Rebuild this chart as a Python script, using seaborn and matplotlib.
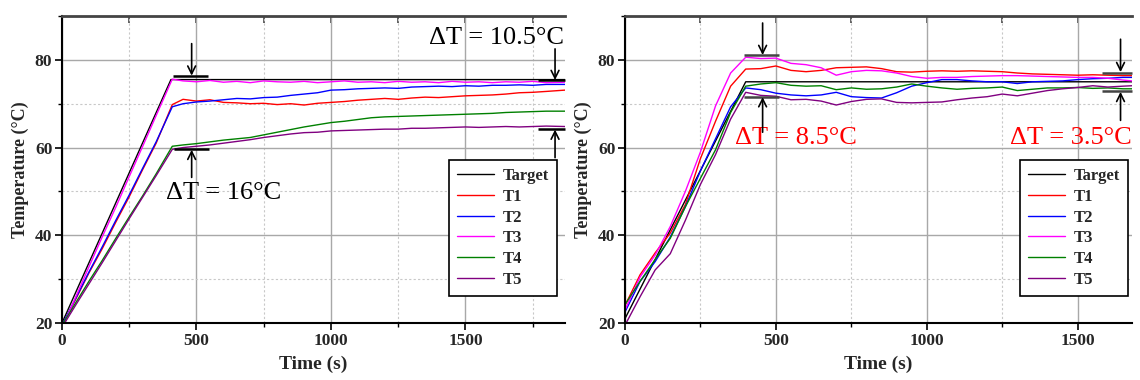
import numpy as np
import pandas as pd
import matplotlib
matplotlib.use("Agg")
import matplotlib.pyplot as plt
from matplotlib.ticker import MultipleLocator, NullFormatter
import seaborn as sns

# ---------------- data ----------------
series_names = ["Target", "T1", "T2", "T3", "T4", "T5"]
series_colors = ["#000000", "#ff0000", "#0000ff", "#ff00ff", "#008000", "#800080"]

# Left panel
left_target_t = [0, 405, 1870]
left_target_y = [20.0, 75.5, 75.5]
left_t = [0, 50, 100, 150, 200, 250, 300, 350, 410, 450, 500, 550, 600, 650, 700, 750,
          800, 850, 900, 950, 1000, 1050, 1100, 1150, 1200, 1250, 1300, 1350, 1400,
          1450, 1500, 1550, 1600, 1650, 1700, 1750, 1800, 1870]
left_T1 = [19.5, 25.3, 31.4, 37.0, 43.0, 48.8, 55.0, 61.0, 69.8, 71.0, 70.6, 70.9, 70.3,
           70.2, 70.0, 70.1, 69.8, 70.0, 69.7, 70.1, 70.3, 70.5, 70.8, 71.0, 71.2, 71.0,
           71.3, 71.5, 71.4, 71.6, 71.8, 71.9, 72.0, 72.2, 72.5, 72.6, 72.8, 73.1]
left_T2 = [19.5, 25.5, 31.6, 37.4, 43.4, 49.2, 55.3, 61.3, 69.3, 70.0, 70.4, 70.6, 70.9,
           71.2, 71.1, 71.4, 71.5, 71.9, 72.2, 72.5, 73.1, 73.2, 73.4, 73.5, 73.6, 73.5,
           73.8, 73.9, 74.0, 73.9, 74.1, 74.0, 74.2, 74.2, 74.3, 74.2, 74.4, 74.4]
left_T3 = [18.8, 25.8, 32.8, 39.7, 46.4, 53.4, 60.3, 67.3, 75.6, 75.2, 75.0, 75.3, 74.9,
           75.1, 74.8, 75.2, 75.0, 74.9, 75.1, 74.8, 75.0, 75.2, 74.9, 75.0, 74.8, 75.1,
           74.9, 75.0, 74.8, 75.1, 74.9, 75.0, 74.8, 75.0, 74.9, 75.1, 74.8, 74.9]
left_T4 = [19.5, 24.5, 29.5, 34.3, 39.3, 44.2, 49.0, 54.0, 60.3, 60.6, 60.9, 61.3, 61.7,
           62.0, 62.3, 62.9, 63.5, 64.1, 64.7, 65.2, 65.7, 66.0, 66.4, 66.8, 67.0, 67.1,
           67.2, 67.3, 67.4, 67.5, 67.6, 67.7, 67.8, 68.0, 68.1, 68.2, 68.3, 68.3]
left_T5 = [19.0, 24.0, 28.9, 33.8, 38.8, 43.8, 48.7, 53.6, 59.6, 60.0, 60.3, 60.6, 61.0,
           61.4, 61.8, 62.3, 62.7, 63.1, 63.4, 63.5, 63.8, 63.9, 64.0, 64.1, 64.2, 64.2,
           64.4, 64.4, 64.5, 64.6, 64.7, 64.6, 64.7, 64.8, 64.7, 64.8, 64.9, 64.8]

# Right panel
right_target_t = [0, 400, 1680]
right_target_y = [21.0, 75.0, 75.0]
right_t = [0, 50, 100, 150, 200, 250, 300, 350, 400, 450, 500, 550, 600, 650, 700, 750,
           800, 850, 900, 950, 1000, 1050, 1100, 1150, 1200, 1250, 1300, 1350, 1400,
           1450, 1500, 1550, 1600, 1650, 1680]
right_T1 = [24.0, 31.0, 36.0, 40.5, 47.0, 57.5, 66.0, 74.0, 77.9, 78.0, 78.6, 77.6, 77.3,
            77.6, 78.2, 78.3, 78.4, 78.0, 77.3, 77.2, 77.4, 77.5, 77.4, 77.5, 77.4, 77.3,
            77.0, 76.8, 76.7, 76.6, 76.5, 76.6, 76.5, 76.4, 76.4]
right_T2 = [22.5, 29.5, 34.0, 39.6, 46.5, 54.7, 62.0, 69.3, 73.6, 73.2, 72.4, 72.0, 71.8,
            72.0, 72.6, 71.6, 71.4, 71.3, 72.5, 74.0, 74.8, 75.5, 75.5, 75.2, 75.0, 75.0,
            74.6, 75.0, 75.1, 75.2, 75.5, 75.7, 75.8, 76.0, 76.0]
right_T3 = [23.0, 30.5, 35.5, 42.0, 50.0, 59.0, 69.5, 77.0, 80.6, 80.3, 80.4, 79.2, 78.9,
            78.2, 76.5, 77.3, 77.6, 77.5, 77.0, 76.2, 75.8, 76.0, 76.0, 76.2, 76.3, 76.4,
            76.4, 76.3, 76.2, 76.1, 76.0, 76.0, 75.8, 75.4, 75.2]
right_T4 = [24.2, 29.5, 34.5, 39.3, 46.5, 53.0, 59.5, 68.0, 74.0, 74.5, 74.8, 74.2, 74.0,
            74.1, 73.2, 73.6, 73.3, 73.4, 73.8, 74.5, 74.0, 73.6, 73.3, 73.5, 73.6, 73.8,
            73.0, 73.3, 73.6, 73.6, 73.7, 73.5, 73.6, 73.4, 73.4]
right_T5 = [19.5, 26.0, 32.1, 35.8, 43.4, 51.6, 58.4, 66.5, 72.6, 71.9, 71.7, 70.9, 71.0,
            70.6, 69.7, 70.5, 71.0, 71.1, 70.3, 70.2, 70.3, 70.4, 70.9, 71.3, 71.6, 72.2,
            71.8, 72.4, 73.0, 73.4, 73.7, 74.1, 73.8, 74.0, 74.1]

left_xmax, right_xmax = 1870, 1680

# ---------------- styling ----------------
sns.set_theme(style="white")
plt.rcParams["font.family"] = ["Liberation Serif", "DejaVu Serif"]


def build_df(target_t, target_y, t, curves):
    frames = [pd.DataFrame({"time": target_t, "temp": target_y, "series": "Target"})]
    for name, vals in zip(series_names[1:], curves):
        frames.append(pd.DataFrame({"time": t, "temp": vals, "series": name}))
    return pd.concat(frames, ignore_index=True)


df_left = build_df(left_target_t, left_target_y, left_t,
                   [left_T1, left_T2, left_T3, left_T4, left_T5])
df_right = build_df(right_target_t, right_target_y, right_t,
                    [right_T1, right_T2, right_T3, right_T4, right_T5])

palette = dict(zip(series_names, series_colors))

fig = plt.figure(figsize=(11.4, 3.8), dpi=100)
ax1 = fig.add_axes([62 / 1140, 1 - 323 / 380, (565 - 62) / 1140, (323 - 16) / 380])
ax2 = fig.add_axes([625 / 1140, 1 - 323 / 380, (1132 - 625) / 1140, (323 - 16) / 380])


def style_axes(ax, xmax, legend_anchor):
    ax.set_xlim(0, xmax)
    ax.set_ylim(20, 90)
    ax.xaxis.set_major_locator(MultipleLocator(500))
    ax.xaxis.set_minor_locator(MultipleLocator(250))
    ax.yaxis.set_major_locator(MultipleLocator(20))
    ax.yaxis.set_minor_locator(MultipleLocator(10))
    ax.grid(which="major", color="#a8a8a8", lw=1.0, ls="-")
    ax.grid(which="minor", color="#c8c8c8", lw=0.8, ls=(0, (2, 2)))
    ax.set_axisbelow(True)
    for s in ["left", "bottom"]:
        ax.spines[s].set_color("black")
        ax.spines[s].set_linewidth(1.5)
    ax.spines["right"].set_visible(False)
    ax.spines["top"].set_color("#444444")
    ax.spines["top"].set_linewidth(2.0)
    ax.tick_params(axis="both", which="major", direction="out", length=5, width=1.2,
                   color="black", labelsize=12.5, pad=2, bottom=True, left=True)
    ax.tick_params(axis="both", which="minor", direction="out", length=3, width=1.0,
                   color="black", bottom=True, left=True)
    for lab in ax.get_xticklabels() + ax.get_yticklabels():
        lab.set_fontweight("bold")
    # inward ticks on top edge
    tw = ax.twiny()
    tw.set_xlim(ax.get_xlim())
    tw.xaxis.set_major_locator(MultipleLocator(500))
    tw.xaxis.set_minor_locator(MultipleLocator(250))
    tw.xaxis.set_major_formatter(NullFormatter())
    tw.tick_params(axis="x", which="both", direction="in", top=True, bottom=False,
                   labeltop=False, length=5, width=1.2, color="#444444")
    tw.grid(False)
    for s in tw.spines.values():
        s.set_visible(False)
    tw.set_zorder(ax.get_zorder() - 1)
    ax.patch.set_visible(False)

    ax.set_xlabel("Time (s)", fontsize=14, fontweight="bold", labelpad=5)
    ax.set_ylabel("Temperature (\u00b0C)", fontsize=13, fontweight="bold", labelpad=4)
    leg = ax.legend(loc="lower right", bbox_to_anchor=legend_anchor, borderaxespad=0,
                    frameon=True, fancybox=False, framealpha=1, edgecolor="black",
                    prop={"weight": "bold", "size": 12}, handlelength=2.2,
                    labelspacing=0.28, borderpad=0.5, handletextpad=0.5)
    leg.get_frame().set_linewidth(1.2)
    for line in leg.get_lines():
        line.set_linewidth(1.0)


for ax, df, xmax, anchor in [(ax1, df_left, left_xmax, (0.984, 0.088)),
                             (ax2, df_right, right_xmax, (0.992, 0.088))]:
    sns.lineplot(data=df, x="time", y="temp", hue="series", hue_order=series_names,
                 palette=palette, estimator=None, sort=False, lw=1.0, ax=ax)
    style_axes(ax, xmax, anchor)

arrow_kw = dict(arrowstyle="->", color="black", lw=1.2, mutation_scale=14,
                shrinkA=0, shrinkB=0)


def bar(ax, x0, x1, y, color="black"):
    ax.plot([x0, x1], [y, y], color=color, lw=1.8, solid_capstyle="butt",
            clip_on=False, zorder=5)


def arrow(ax, x, y_from, y_to):
    ax.annotate("", xy=(x, y_to), xytext=(x, y_from), arrowprops=arrow_kw,
                annotation_clip=False, zorder=6)


# Left annotations
bar(ax1, 412, 543, 76.3)
bar(ax1, 417, 547, 59.6)
arrow(ax1, 482, 83.7, 76.4)
arrow(ax1, 482, 53.2, 59.5)
bar(ax1, 1768, 1870, 75.3)
bar(ax1, 1768, 1870, 64.2)
arrow(ax1, 1833, 82.5, 75.4)
arrow(ax1, 1833, 57.7, 64.1)
ax1.text(602, 49.7, "\u0394T = 16\u00b0C", fontsize=19, ha="center", va="center",
         color="black")
ax1.text(1866, 85.0, "\u0394T = 10.5\u00b0C", fontsize=19, ha="right", va="center",
         color="black")

# Right annotations
bar(ax2, 394, 510, 81.0, "#444444")
bar(ax2, 394, 510, 71.6, "#444444")
arrow(ax2, 456, 88.4, 81.1)
arrow(ax2, 456, 63.5, 71.5)
bar(ax2, 1579, 1680, 77.1, "#444444")
bar(ax2, 1579, 1680, 72.8, "#444444")
arrow(ax2, 1642, 84.7, 77.2)
arrow(ax2, 1642, 66.2, 72.7)
ax2.text(566, 62.2, "\u0394T = 8.5\u00b0C", fontsize=19, ha="center", va="center",
         color="#ff0000")
ax2.text(1678, 62.2, "\u0394T = 3.5\u00b0C", fontsize=19, ha="right", va="center",
         color="#ff0000")

fig.savefig("out.png", dpi=100)
